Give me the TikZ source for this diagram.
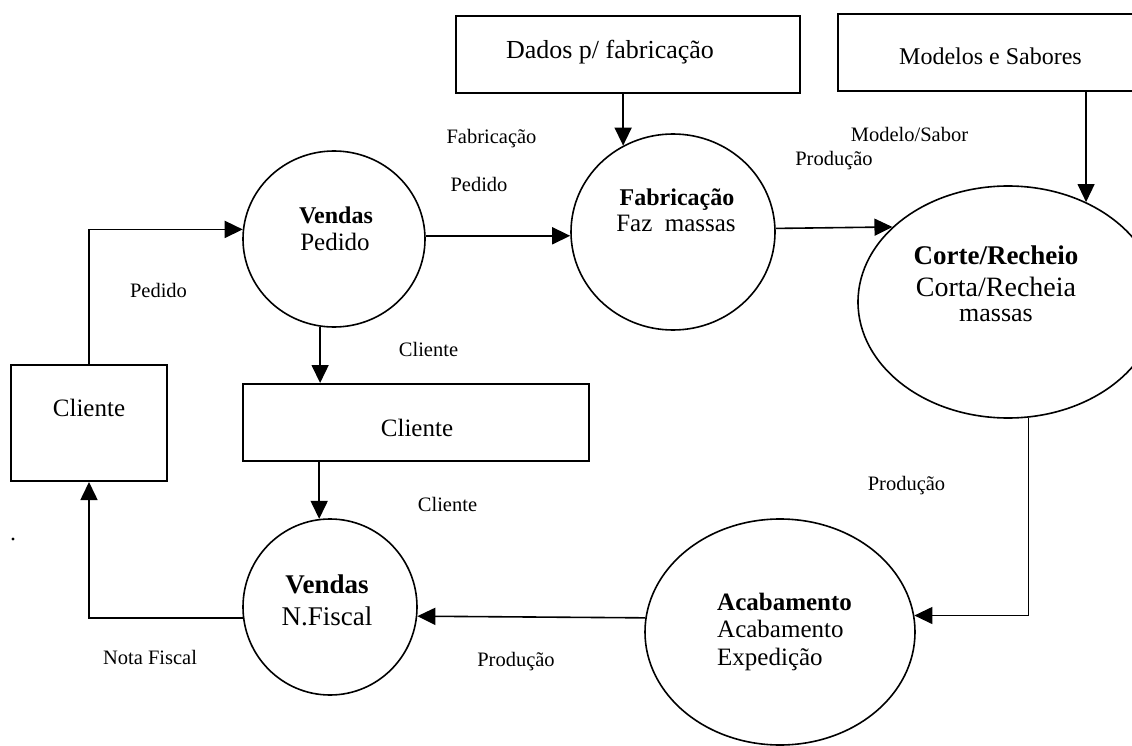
\documentclass[tikz,border=0pt]{standalone}
\usepackage{fontspec}
\setmainfont{Liberation Serif}
\usetikzlibrary{arrows.meta,shapes.geometric}

\tikzset{
  store/.style={draw, line width=2pt, rectangle, inner sep=0pt},
  proc/.style={draw, line width=1.6pt, ellipse, inner sep=0pt},
  flow/.style={line width=1.6pt, -{Triangle[length=18pt,width=17pt]}},
  thinflow/.style={line width=1.2pt, -{Triangle[length=18pt,width=17pt]}},
  lbl/.style={anchor=base, inner sep=0pt, font=\fontsize{20.5}{24}\selectfont},
  txt/.style={anchor=base, inner sep=0pt, font=\fontsize{#1}{#1}\selectfont},
  btxt/.style={anchor=base, inner sep=0pt, font=\fontsize{#1}{#1}\selectfont\bfseries},
}

\begin{document}
\begin{tikzpicture}[x=1pt, y=-1pt]
\useasboundingbox (0,0) rectangle (1132,746);

% external entities and stores
\node[store, minimum width=344pt, minimum height=77pt] (dados) at (628,54.5) {};
\node[store, minimum width=307pt, minimum height=77pt] (modelos) at (991.5,52.5) {};
\node[store, minimum width=156pt, minimum height=116pt] (cl) at (89,423) {};
\node[store, minimum width=346pt, minimum height=77pt] (cm) at (416,422.5) {};

\node[txt=26] (dados-t) at (610,59) {Dados p/ fabricação};
\node[txt=24] (modelos-t) at (990.5,65) {Modelos e Sabores};
\node[txt=25] (cl-t) at (89,416) {Cliente};
\node[txt=25] (cm-t) at (417,436) {Cliente};

% processes
\node[proc, minimum width=182pt, minimum height=176pt] (vp) at (334,239) {};
\node[proc, minimum width=204pt, minimum height=196pt] (fab) at (673,232) {};
\node[proc, minimum width=300pt, minimum height=232pt] (corte) at (1008,302) {};
\node[proc, minimum width=270pt, minimum height=226pt] (acab) at (780,632) {};
\node[proc, minimum width=174pt, minimum height=176pt] (vnf) at (330,607) {};

\node[btxt=24] (vp-a) at (336,223) {Vendas};
\node[txt=25] (vp-b) at (335,251) {Pedido};

\node[btxt=24] (fab-a) at (677,205) {Fabricação};
\node[txt=25] (fab-b) at (676,231) {Faz\ \ massas};

\node[btxt=27] (corte-a) at (996,264) {Corte/Recheio};
\node[txt=28] (corte-b) at (996,296) {Corta/Recheia};
\node[txt=26] (corte-c) at (996,321) {massas};

\node[btxt=25, anchor=base west] (acab-a) at (717,610) {Acabamento};
\node[txt=25, anchor=base west] (acab-b) at (717,637) {Acabamento};
\node[txt=25, anchor=base west] (acab-c) at (717,665) {Expedição};

\node[btxt=27] (vnf-a) at (327,593) {Vendas};
\node[txt=27] (vnf-b) at (327,625) {N.Fiscal};

% data flows
\draw[flow] (cl.north) |- (vp.174);
\draw[flow] (vp.2) -- (vp.2 -| fab.west);
\draw[flow] (fab.2) -- (corte.147.5);
\draw[flow] (fab.120 |- dados.south) -- (fab.120);
\draw[thinflow] (corte.52 |- modelos.south) -- (corte.52);
\draw[flow] (vp.261) -- (vp.261 |- cm.north);
\draw[flow] (vnf.97 |- cm.south) -- (vnf.97);
\draw[flow] (vnf.187) -| (cl.south);
\draw[thinflow] (corte.280) |- (acab.7);
\draw[flow] (acab.174) -- (vnf.354);

% flow labels
\node[lbl] (l-fab) at (491.5,144) {Fabricação};
\node[lbl] (l-ped1) at (479,192) {Pedido};
\node[lbl] (l-ped2) at (158.5,297) {Pedido};
\node[lbl] (l-cli1) at (428.5,356) {Cliente};
\node[lbl] (l-cli2) at (447.5,511) {Cliente};
\node[lbl] (l-nf) at (150,664) {Nota Fiscal};
\node[lbl] (l-prod1) at (516,666) {Produção};
\node[lbl] (l-prod2) at (906.5,490) {Produção};
\node[lbl] (l-mod) at (909.5,142) {Modelo/Sabor};
\node[lbl] (l-prod3) at (834,166) {Produção};

% small dot on the left margin
\fill (13,539) circle (1.6pt);
\end{tikzpicture}
\end{document}
